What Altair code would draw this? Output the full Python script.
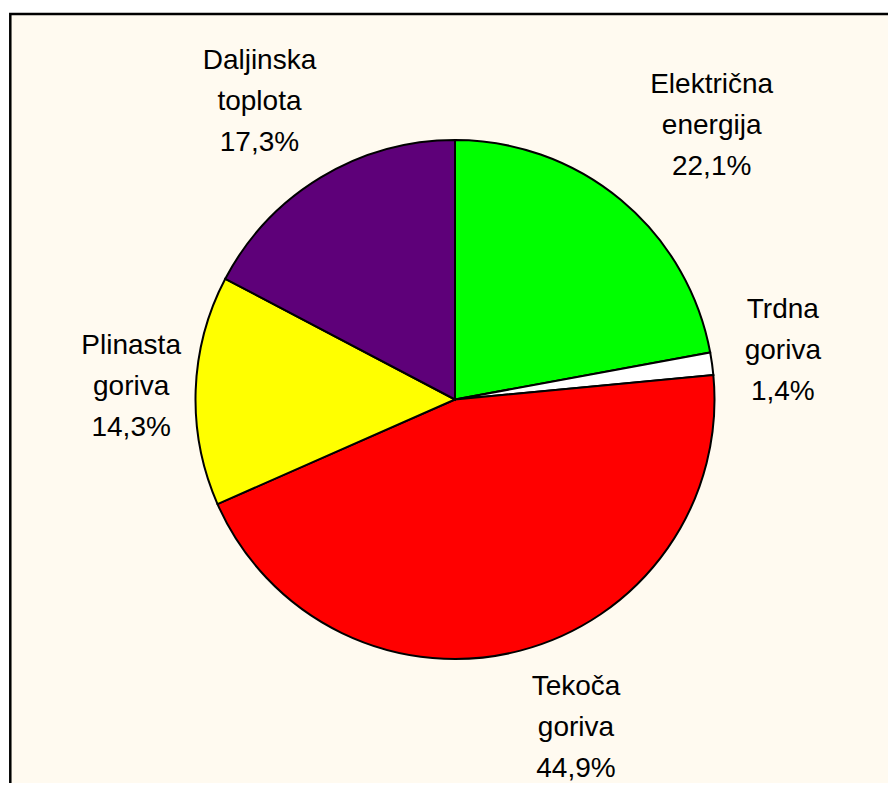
import altair as alt
import pandas as pd

# ---- data ----
categories = ["Električna energija", "Trdna goriva", "Tekoča goriva", "Plinasta goriva", "Daljinska toplota"]
shares = [22.1, 1.4, 44.9, 14.3, 17.3]
colors = ["#00FF00", "#FFFFFF", "#FF0000", "#FFFF00", "#5E0079"]

# ---- layout constants ----
CX, CY, R = 447, 391.5, 259.5
LABEL_D = 280
HH = 58
CHAR_W = 13.5
LINE_H = 41
FONT = "Liberation Sans"

df = pd.DataFrame({
    "idx": list(range(len(categories))),
    "cat": categories,
    "share": shares,
    "label": [c.split(" ") + [f"{v:.1f}".replace(".", ",") + "%"] for c, v in zip(categories, shares)],
})

frame = alt.Chart(alt.Data(values=[{"f": 1}])).mark_rect(
    fill="#FFFAF0", stroke="black", strokeWidth=2.5
).encode(
    x=alt.value(2.3), x2=alt.value(1200), y=alt.value(6), y2=alt.value(1200)
)

arcs = alt.Chart(df).mark_arc(outerRadius=R, stroke="black", strokeWidth=2).encode(
    theta=alt.Theta("share:Q", stack=True),
    color=alt.Color("cat:N", scale=alt.Scale(domain=categories, range=colors), legend=None),
    order=alt.Order("idx:Q", sort="ascending"),
    x=alt.value(CX),
    y=alt.value(CY),
)

labels = alt.Chart(df).transform_joinaggregate(
    total="sum(share)"
).transform_window(
    cum="sum(share)", sort=[alt.SortField("idx", order="ascending")], frame=[None, 0]
).transform_calculate(
    mid="(datum.cum - datum.share / 2) / datum.total * 2 * PI",
    hw=f"0.5 * {CHAR_W} * max(length(datum.label[0]), length(datum.label[1]), length(datum.label[2]))",
).transform_calculate(
    ox="(sin(datum.mid) > 0 ? 1 : -1) * datum.hw + 10",
    oy=f"-{HH} * clamp(1.3 * cos(datum.mid), -1, 1) - {LINE_H}",
).mark_text(
    font=FONT, fontSize=28, lineHeight=LINE_H, align="center", baseline="middle", color="black",
    dx=alt.ExprRef(expr="datum.ox"), dy=alt.ExprRef(expr="datum.oy"),
).encode(
    theta=alt.Theta("mid:Q", scale=None),
    radius=alt.value(LABEL_D),
    x=alt.value(CX),
    y=alt.value(CY),
    text="label",
)

chart = alt.layer(frame, arcs, labels).properties(
    width=880, height=775, padding=0, autosize="none", background="white"
).configure_view(stroke=None)

chart.save("out.html", embed_options={"renderer": "svg", "actions": False})
